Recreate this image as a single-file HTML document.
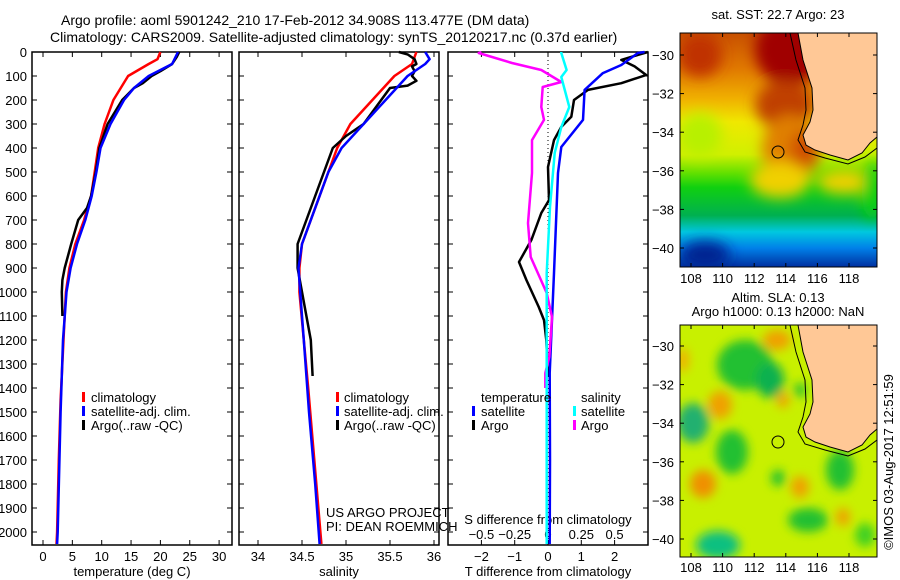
<!DOCTYPE html>
<html><head><meta charset="utf-8"><style>
body{margin:0;background:#fff;}
svg{display:block;font-family:"Liberation Sans",sans-serif;}
text{font-size:13px;fill:#000;}
</style></head><body>
<svg id="chart" width="900" height="580" viewBox="0 0 900 580">
<defs>
 <filter id="bl" x="-50%" y="-50%" width="200%" height="200%"><feGaussianBlur stdDeviation="7"/></filter>
 <filter id="bl2" x="-50%" y="-50%" width="200%" height="200%"><feGaussianBlur stdDeviation="5"/></filter>
 <clipPath id="c1"><rect x="680" y="33" width="197" height="234"/></clipPath>
 <clipPath id="c2"><rect x="680" y="325" width="197" height="232"/></clipPath>
 <linearGradient id="sst" x1="0" y1="0" x2="0" y2="1">
  <stop offset="0" stop-color="#c85000"/><stop offset="0.15" stop-color="#e07800"/>
  <stop offset="0.28" stop-color="#f0b000"/><stop offset="0.38" stop-color="#f0e800"/>
  <stop offset="0.52" stop-color="#d0f000"/><stop offset="0.6" stop-color="#60e000"/>
  <stop offset="0.66" stop-color="#10d010"/><stop offset="0.78" stop-color="#00b050"/>
  <stop offset="0.85" stop-color="#00c8e0"/><stop offset="0.92" stop-color="#0080e8"/>
  <stop offset="1" stop-color="#0030a0"/>
 </linearGradient>
</defs>
<text x="61" y="25" style="font-size:14px">Argo profile: aoml 5901242_210 17-Feb-2012 34.908S 113.477E (DM data)</text>
<text x="50" y="42" style="font-size:14px">Climatology: CARS2009. Satellite-adjusted climatology: synTS_20120217.nc (0.37d earlier)</text>
<g id="axes"></g>
<g id="series"></g>
<g>
 <rect x="82" y="392" width="3" height="10" fill="#f00"/><text x="91" y="402">climatology</text>
 <rect x="82" y="406" width="3" height="10" fill="#00f"/><text x="91" y="416">satellite-adj. clim.</text>
 <rect x="82" y="420" width="3" height="10" fill="#000"/><text x="91" y="430">Argo(..raw -QC)</text>
</g>
<g>
 <rect x="336" y="392" width="3" height="10" fill="#f00"/><text x="344" y="402">climatology</text>
 <rect x="336" y="406" width="3" height="10" fill="#00f"/><text x="344" y="416">satellite-adj. clim.</text>
 <rect x="336" y="420" width="3" height="10" fill="#000"/><text x="344" y="430">Argo(..raw -QC)</text>
</g>
<text x="326" y="517">US ARGO PROJECT</text>
<text x="326" y="531">PI: DEAN ROEMMICH</text>
<g>
 <text x="481" y="402">temperature</text><text x="581" y="402">salinity</text>
 <rect x="472" y="406" width="3" height="10" fill="#00f"/><text x="481" y="416">satellite</text>
 <rect x="472" y="420" width="3" height="10" fill="#000"/><text x="481" y="430">Argo</text>
 <rect x="573" y="406" width="3" height="10" fill="#0ff"/><text x="581" y="416">satellite</text>
 <rect x="573" y="420" width="3" height="10" fill="#f0f"/><text x="581" y="430">Argo</text>
</g>
<g>
 <g clip-path="url(#c1)">
  <rect x="680" y="33" width="197" height="234" fill="url(#sst)"/>
  <g filter="url(#bl)">
   <ellipse cx="790" cy="50" rx="35" ry="35" fill="#a00000"/>
   <ellipse cx="700" cy="55" rx="22" ry="22" fill="#c03000"/>
   <ellipse cx="785" cy="105" rx="30" ry="25" fill="#c04000"/>
   <ellipse cx="790" cy="150" rx="28" ry="35" fill="#e08000"/>
   <ellipse cx="805" cy="150" rx="15" ry="20" fill="#d05000"/>
   <ellipse cx="780" cy="180" rx="30" ry="18" fill="#f0d000"/>
   <ellipse cx="845" cy="182" rx="28" ry="12" fill="#f0d000"/>
   <ellipse cx="700" cy="135" rx="22" ry="22" fill="#b8f000"/>
   <ellipse cx="872" cy="190" rx="10" ry="30" fill="#10d010"/>
   <ellipse cx="705" cy="255" rx="25" ry="14" fill="#002090"/>
  </g>
  <polygon points="798,33 803,60 812,88 813,110 810,122 803,135 806,145 815,150 830,155 848,160 862,153 870,143 877,137 877,33" fill="#ffc896"/>
  <polyline points="790,33 796,60 805,88 806,110 803,125 798,140 805,152 825,158 848,164 865,157 877,148" fill="none" stroke="#000" stroke-width="1"/>
  <polyline points="798,33 803,60 812,88 813,110 810,122 803,135 806,145 815,150 830,155 848,160 862,153 870,143 877,137" fill="none" stroke="#000" stroke-width="1"/>
  <circle cx="778" cy="152" r="6" fill="none" stroke="#000"/>
 </g>
 <rect x="680" y="33" width="197" height="234" fill="none" stroke="#000"/>
</g>
<text x="778" y="19" text-anchor="middle">sat. SST: 22.7 Argo: 23</text>
<g>
 <g clip-path="url(#c2)">
  <rect x="680" y="325" width="197" height="232" fill="#c8f000"/>
  <g filter="url(#bl2)">
   <ellipse cx="745" cy="365" rx="28" ry="25" fill="#20c030"/>
   <ellipse cx="770" cy="380" rx="14" ry="18" fill="#10b050"/>
   <ellipse cx="693" cy="423" rx="16" ry="20" fill="#20b070"/>
   <ellipse cx="732" cy="452" rx="16" ry="22" fill="#20c030"/>
   <ellipse cx="718" cy="545" rx="22" ry="14" fill="#10c080"/>
   <ellipse cx="840" cy="470" rx="14" ry="20" fill="#20c030"/>
   <ellipse cx="808" cy="520" rx="20" ry="12" fill="#20c030"/>
   <ellipse cx="778" cy="478" rx="7" ry="8" fill="#20c030"/>
   <ellipse cx="865" cy="535" rx="10" ry="12" fill="#40d020"/>
   <ellipse cx="800" cy="390" rx="6" ry="7" fill="#20c030"/>
   <ellipse cx="777" cy="340" rx="14" ry="10" fill="#f0a000"/>
   <ellipse cx="720" cy="405" rx="12" ry="14" fill="#f0a000"/>
   <ellipse cx="703" cy="484" rx="13" ry="14" fill="#f09000"/>
   <ellipse cx="783" cy="400" rx="6" ry="8" fill="#f0a000"/>
   <ellipse cx="800" cy="487" rx="9" ry="11" fill="#f0a000"/>
   <ellipse cx="843" cy="517" rx="7" ry="9" fill="#f0a000"/>
   <ellipse cx="683" cy="360" rx="6" ry="12" fill="#f0b000"/>
  </g>
  <polygon points="798,325 803,352 812,380 813,402 810,414 803,427 806,437 815,442 830,447 848,452 862,445 870,435 877,429 877,325" fill="#ffc896"/>
  <polyline points="790,325 796,352 805,380 806,402 803,417 798,432 805,444 825,450 848,456 865,449 877,440" fill="none" stroke="#000"/>
  <polyline points="798,325 803,352 812,380 813,402 810,414 803,427 806,437 815,442 830,447 848,452 862,445 870,435 877,429" fill="none" stroke="#000"/>
  <circle cx="778" cy="442" r="6" fill="none" stroke="#000"/>
 </g>
 <rect x="680" y="325" width="197" height="232" fill="none" stroke="#000"/>
</g>
<text x="778" y="302" text-anchor="middle">Altim. SLA: 0.13</text>
<text x="778" y="316" text-anchor="middle">Argo h1000: 0.13 h2000: NaN</text>
<text transform="translate(893,462) rotate(-90)" text-anchor="middle">©IMOS 03-Aug-2017 12:51:59</text>
<g id="mapaxes"></g>
</svg>
<script>
const depthTicks=[0,100,200,300,400,500,600,700,800,900,1000,1100,1200,1300,1400,1500,1600,1700,1800,1900,2000];
const tempTicks=[0,5,10,15,20,25,30];
const salTicks=[34,34.5,35,35.5,36];
const tdiffTicks=[-2,-1,0,1,2];
const sdiffTicks=[-0.5,-0.25,0,0.25,0.5];
const lonTicks=[108,110,112,114,116,118];
const latTicks=[-30,-32,-34,-36,-38,-40];

const tempDepthArgo=[0,20,50,80,100,130,150,200,300,400,500,600,650,700,800,900,950,1000,1100];
const tempArgo=[23.2,22.8,22,20,18.5,17,15.5,13.5,11,9.6,9.0,8.2,7.5,6.0,4.8,3.7,3.3,3.2,3.3];
const tempDepthClim=[0,30,50,100,200,300,400,500,600,700,800,900,1000,1200,1450,1700,2000,2050];
const tempClim=[20,19.5,18,14.5,12,10.5,9.4,8.8,8.2,7,5.5,4.5,3.9,3.5,3.0,2.7,2.4,2.3];
const tempDepthSat=[0,50,100,150,200,300,400,500,600,700,800,900,1000,1200,1500,2000,2050];
const tempSat=[23,22,18,15.5,13.8,11.5,9.8,9.1,8.3,7.2,5.8,4.7,4.0,3.4,3.0,2.5,2.4];

const salDepthArgo=[0,10,30,50,60,80,100,120,140,150,200,250,300,350,400,500,600,700,800,900,1000,1100,1200,1350];
const salArgo=[35.6,35.7,35.78,35.8,35.75,35.78,35.75,35.8,35.7,35.5,35.4,35.3,35.2,35.0,34.85,34.75,34.65,34.55,34.45,34.45,34.5,34.55,34.6,34.62];
const salDepthClim=[0,50,100,200,300,400,500,600,700,800,900,1000,1200,1400,1700,2050];
const salClim=[35.8,35.75,35.55,35.3,35.05,34.9,34.8,34.7,34.6,34.5,34.47,34.47,34.52,34.57,34.64,34.72];
const salDepthSat=[0,30,50,100,200,300,400,500,600,700,800,900,1000,1200,1500,1800,2050];
const salSat=[35.9,35.95,35.9,35.7,35.45,35.2,34.95,34.8,34.7,34.6,34.5,34.46,34.48,34.52,34.58,34.65,34.7];

const tdDepthArgo=[0,12,33,60,96,130,158,200,270,312,367,479,617,671,783,875,950,1062,1117,1200,1350];
const tdArgo=[3.0,2.7,2.2,2.6,2.95,2.2,1.2,0.78,0.7,0.4,0.18,0.0,0.03,-0.2,-0.5,-0.87,-0.65,-0.28,-0.12,-0.05,0.0];
const tdDepthSat=[0,4,54,88,158,283,396,504,921,1338,1700,2050];
const tdSat=[2.9,2.7,2.2,1.65,1.1,1.05,0.4,0.3,0.18,0.05,0.06,0.05];
const sdDepthArgo=[0,4,46,75,125,146,229,283,367,504,713,854,1004,1104,1271,1338,1400];
const sdArgo=[-0.5,-0.52,-0.27,-0.05,0.1,-0.04,-0.05,-0.03,-0.12,-0.12,-0.15,-0.13,-0.01,0.03,0.01,-0.02,-0.02];
const sdDepthSat=[0,4,75,104,229,313,421,646,921,1400,2050];
const sdSat=[0.1,0.1,0.14,0.1,0.16,0.1,0.05,0.015,-0.01,-0.01,-0.01];

const NS='http://www.w3.org/2000/svg';
const PANELS=[{x0:32,x1:232},{x0:239,x1:439},{x0:448,x1:648}];
const yTop=52,yBot=545;
const yD=d=>yTop+d*0.24;
const xT=v=>43+v*5.87;
const xS=v=>258+(v-34)*88;
const xTd=v=>548+v*33.3;
const xSd=v=>548+v*133.2;
const xLon=l=>691+(l-108)*15.8;
const yLat1=l=>55+(-30-l)*19.3;
const yLat2=l=>346+(-30-l)*19.3;
function el(t,a,p){const e=document.createElementNS(NS,t);for(const k in a)e.setAttribute(k,a[k]);p.appendChild(e);return e;}
const ax=document.getElementById('axes'),se=document.getElementById('series'),ma=document.getElementById('mapaxes');

PANELS.forEach((p,i)=>{
 const r=el('rect',{x:p.x0,y:yTop,width:p.x1-p.x0,height:yBot-yTop,fill:'none',stroke:'#000','stroke-width':1.5},ax);
 
 
 depthTicks.forEach(d=>{el('line',{x1:p.x0,x2:p.x0+5,y1:yD(d),y2:yD(d),stroke:'#000'},ax);el('line',{x1:p.x1,x2:p.x1-5,y1:yD(d),y2:yD(d),stroke:'#000'},ax);});
});
depthTicks.forEach(d=>{const t=el('text',{x:27,y:yD(d)+5,'text-anchor':'end'},ax);t.textContent=d;
 
 });
function xticks(arr,fx,y,lab){arr.forEach(v=>{const x=fx(v);el('line',{x1:x,x2:x,y1:yBot,y2:yBot-5,stroke:'#000'},ax);el('line',{x1:x,x2:x,y1:yTop,y2:yTop+5,stroke:'#000'},ax);
 const t=el('text',{x:x,y:y,'text-anchor':'middle'},ax);t.textContent=lab?lab(v):v;
 
 });}
xticks(tempTicks,xT,561);
xticks(salTicks,xS,561);
xticks(tdiffTicks,xTd,561,v=>v<0?'−'+(-v):v);
sdiffTicks.forEach(v=>{const t=el('text',{x:xSd(v),y:539,'text-anchor':'middle'},ax);t.textContent=v<0?'−'+(-v):v;
 
 });
[['temperature (deg C)',132,576,'temperature-axis-title'],['salinity',339,576,'salinity-axis-title'],['T difference from climatology',548,576,'t-diff-axis-title'],['S difference from climatology',548,524,'s-diff-axis-title']].forEach(a=>{
 const t=el('text',{x:a[1],y:a[2],'text-anchor':'middle'},ax);t.textContent=a[0];
 
 });
el('line',{x1:548,x2:548,y1:yTop,y2:yBot,stroke:'#000','stroke-dasharray':'1,3'},se);

function line(ds,vs,fx,col,name){const pts=ds.map((d,i)=>fx(vs[i]).toFixed(1)+','+yD(d).toFixed(1)).join(' ');
 const l=el('polyline',{points:pts,fill:'none',stroke:col,'stroke-width':2.5,'stroke-linejoin':'round'},se);
 
 }
line(tempDepthClim,tempClim,xT,'#f00','temp-climatology-line');
line(tempDepthArgo,tempArgo,xT,'#000','temp-argo-line');
line(tempDepthSat,tempSat,xT,'#00f','temp-satellite-line');
line(salDepthClim,salClim,xS,'#f00','sal-climatology-line');
line(salDepthArgo,salArgo,xS,'#000','sal-argo-line');
line(salDepthSat,salSat,xS,'#00f','sal-satellite-line');
line(tdDepthArgo,tdArgo,xTd,'#000','tdiff-argo-line');
line(tdDepthSat,tdSat,xTd,'#00f','tdiff-satellite-line');
line(sdDepthArgo,sdArgo,xSd,'#f0f','sdiff-argo-line');
line(sdDepthSat,sdSat,xSd,'#0ff','sdiff-satellite-line');

[[yLat1,33,267,283],[yLat2,325,557,572]].forEach(m=>{
 lonTicks.forEach(l=>{const x=xLon(l);el('line',{x1:x,x2:x,y1:m[1],y2:m[1]+4,stroke:'#000'},ma);el('line',{x1:x,x2:x,y1:m[2],y2:m[2]-4,stroke:'#000'},ma);
  const t=el('text',{x:x,y:m[3],'text-anchor':'middle'},ma);t.textContent=l;
  
  });
 latTicks.forEach(l=>{const y=m[0](l);el('line',{x1:680,x2:684,y1:y,y2:y,stroke:'#000'},ma);el('line',{x1:877,x2:873,y1:y,y2:y,stroke:'#000'},ma);
  const t=el('text',{x:674,y:y+5,'text-anchor':'end'},ma);t.textContent='−'+(-l);
  
  });
});
</script>
</body></html>
